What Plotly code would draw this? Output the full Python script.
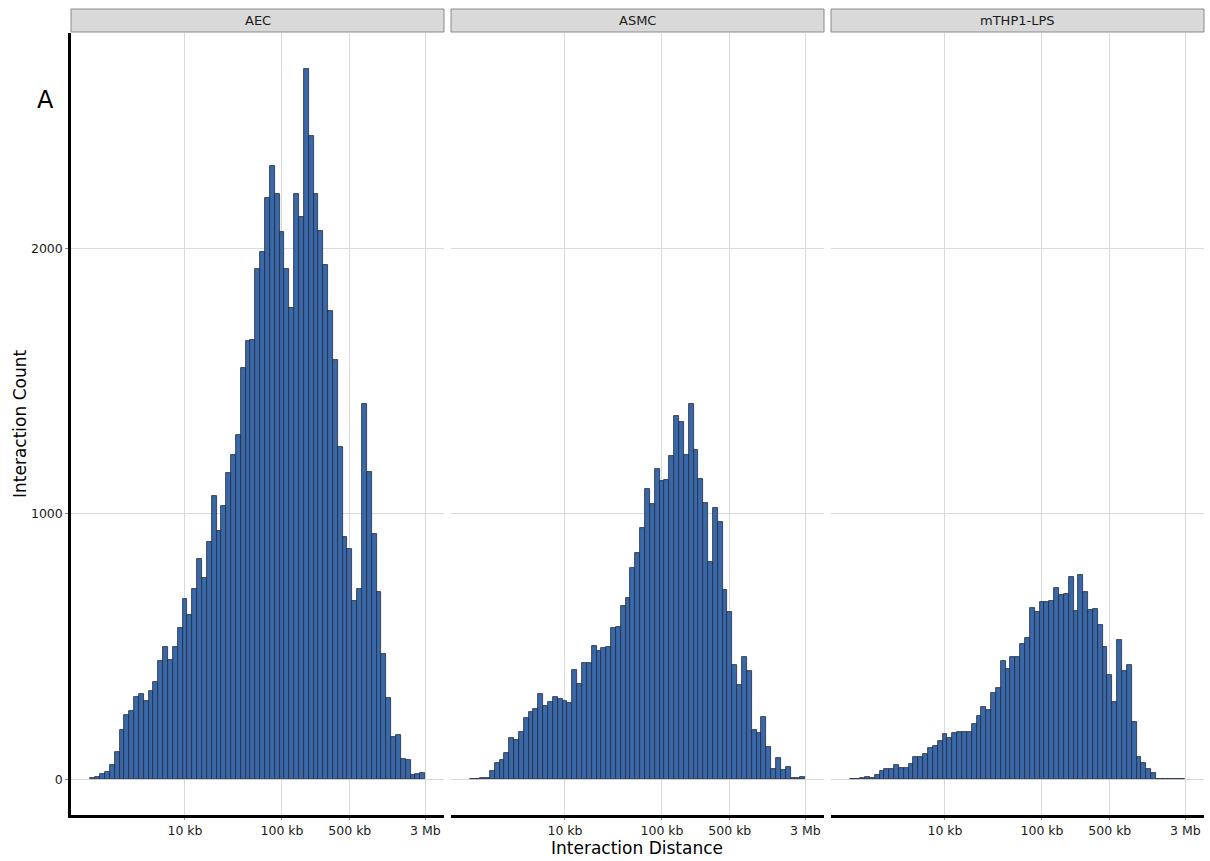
import numpy as np
import plotly.graph_objects as go

# Histogram of interaction distances (log10 bins, width 0.05, first bin centred at 10^3.05 bp)
BIN_WIDTH = 0.05
FIRST_CENTER = 3.05

panels = ["AEC", "ASMC", "mTHP1-LPS"]

counts_aec = [
    6, 10, 19, 28, 53, 104, 187, 241, 258, 312, 320, 297, 332, 365, 447, 499, 451, 497,
    570, 679, 619, 717, 830, 758, 892, 1066, 937, 1028, 1155, 1221, 1297, 1550, 1650, 1654,
    1922, 1985, 2189, 2311, 2204, 2060, 1922, 1776, 2204, 2118, 2674, 2421, 2204, 2065,
    1936, 1763, 1578, 1253, 914, 867, 670, 717, 1412, 1158, 924, 707, 472, 306, 159, 168,
    78, 73, 16, 19, 25,
]
counts_asmc = [
    1, 2, 4, 6, 30, 63, 73, 98, 155, 147, 177, 233, 254, 266, 322, 278, 293, 311, 301,
    294, 286, 411, 361, 439, 440, 501, 482, 494, 497, 570, 575, 654, 683, 796, 851, 946,
    1093, 1036, 1167, 1124, 1129, 1216, 1368, 1345, 1222, 1415, 1242, 1130, 1040, 820,
    1021, 969, 712, 630, 431, 356, 459, 410, 185, 175, 234, 123, 41, 79, 34, 46, 4, 4, 8,
]
counts_mthp1 = [
    1, 3, 5, 9, 6, 16, 31, 40, 38, 56, 44, 44, 59, 83, 85, 94, 120, 124, 143, 172, 157,
    173, 178, 177, 177, 207, 239, 271, 262, 326, 345, 445, 417, 460, 460, 508, 533, 644,
    629, 667, 667, 673, 721, 693, 698, 761, 635, 771, 704, 637, 640, 581, 497, 393, 292,
    525, 410, 432, 216, 84, 63, 38, 26, 0, 0, 0, 0, 0, 0,
]
panel_counts = [counts_aec, counts_asmc, counts_mthp1]

tick_bp = [1e4, 1e5, 5e5, 3e6]
tick_text = ["10 kb", "100 kb", "500 kb", "3 Mb"]
y_ticks = [0, 1000, 2000]

W, H = 1210, 861
panel_px = [(71, 444), (451, 824), (831, 1204)]
plot_top, plot_bottom = 33, 815
strip_top, strip_bottom = 9, 32

FILL = "#3A67A6"
EDGE = "#1E2B45"
GRID = "#DADADA"
FONT = "DejaVu Sans, Verdana, sans-serif"


def px_x(p):
    return p / W


def px_y(p):
    return 1 - p / H


fig = go.Figure()
shapes, annotations = [], []
ydom = [px_y(plot_bottom), px_y(plot_top)]

for i, (name, counts) in enumerate(zip(panels, panel_counts)):
    centers = FIRST_CENTER + BIN_WIDTH * np.arange(len(counts))
    xa = "x" if i == 0 else f"x{i + 1}"
    ya = "y" if i == 0 else f"y{i + 1}"
    fig.add_trace(go.Bar(
        x=centers, y=counts, width=BIN_WIDTH,
        marker=dict(color=FILL, line=dict(color=EDGE, width=0.8)),
        xaxis=xa, yaxis=ya, showlegend=False,
        hovertemplate=name + "<br>%{y}<extra></extra>",
    ))
    l, r = panel_px[i]
    xdom = [px_x(l), px_x(r)]
    sfx = "" if i == 0 else str(i + 1)
    fig.layout["xaxis" + sfx] = dict(
        domain=xdom, anchor=ya, range=[2.825, 6.670],
        tickvals=list(np.log10(tick_bp)), ticktext=tick_text,
        showgrid=True, gridcolor=GRID, gridwidth=1.2, zeroline=False,
        showline=True, linecolor="black", linewidth=2.5,
        ticks="outside", ticklen=2, tickcolor="#888888", tickwidth=1,
        tickfont=dict(family=FONT, size=12.5, color="#1a1a1a"),
    )
    fig.layout["yaxis" + sfx] = dict(
        domain=ydom, anchor=xa, range=[-134, 2810],
        tickvals=y_ticks, ticktext=[str(v) if i == 0 else "" for v in y_ticks],
        showgrid=True, gridcolor=GRID, gridwidth=1.2, zeroline=False,
        showline=(i == 0), linecolor="black", linewidth=2.5,
        ticks="outside" if i == 0 else "", ticklen=3, tickcolor="#888888", tickwidth=1,
        tickfont=dict(family=FONT, size=12.5, color="#1a1a1a"),
    )
    # facet strip
    shapes.append(dict(
        type="rect", xref="paper", yref="paper",
        x0=px_x(l), x1=px_x(r), y0=px_y(strip_bottom), y1=px_y(strip_top),
        fillcolor="#D9D9D9", line=dict(color="#8A8A8A", width=1), layer="below",
    ))
    annotations.append(dict(
        xref="paper", yref="paper", x=(px_x(l) + px_x(r)) / 2,
        y=(px_y(strip_top) + px_y(strip_bottom)) / 2,
        text=name, showarrow=False, xanchor="center", yanchor="middle",
        font=dict(family=FONT, size=13, color="#1a1a1a"),
    ))

annotations += [
    dict(xref="paper", yref="paper", x=px_x(637), y=px_y(848), text="Interaction Distance",
         showarrow=False, xanchor="center", yanchor="middle",
         font=dict(family=FONT, size=17, color="black")),
    dict(xref="paper", yref="paper", x=px_x(20), y=px_y(424), text="Interaction Count",
         showarrow=False, xanchor="center", yanchor="middle", textangle=-90,
         font=dict(family=FONT, size=17, color="black")),
    dict(xref="paper", yref="paper", x=px_x(46), y=px_y(100), text="A",
         showarrow=False, xanchor="center", yanchor="middle",
         font=dict(family=FONT, size=24, color="black")),
]

fig.update_layout(
    width=W, height=H, margin=dict(l=0, r=0, t=0, b=0),
    paper_bgcolor="white", plot_bgcolor="white",
    bargap=0, shapes=shapes, annotations=annotations,
)

fig.write_html("out.html")
